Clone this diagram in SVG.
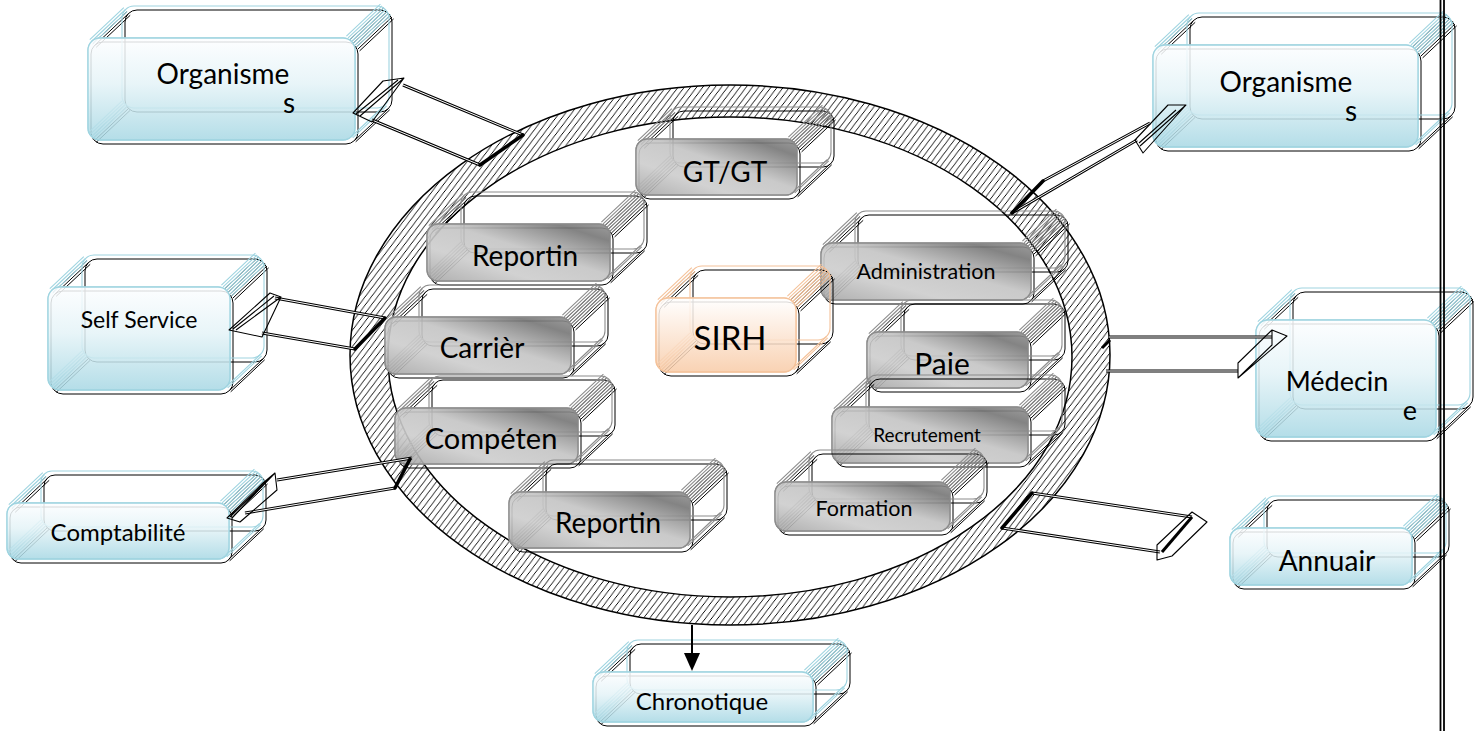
<svg xmlns="http://www.w3.org/2000/svg" xmlns:xlink="http://www.w3.org/1999/xlink" width="1474" height="731" viewBox="0 0 1474 731">
<style>
.ink{stroke:#000;fill:none;stroke-width:1}
.blu{stroke:#9fd4e0;fill:none;stroke-width:1.1}
.gry{stroke:#8c8c8c;fill:none;stroke-width:1.1}
.orn{stroke:#f4c29a;fill:none;stroke-width:1.1}
.fb{fill:url(#gBlue);fill-opacity:.86;stroke:#9fd4e0;stroke-width:1.3}
.fg{fill:url(#gGray);fill-opacity:.9;stroke:#8c8c8c;stroke-width:1.3}
.fo{fill:url(#gOrange);fill-opacity:.86;stroke:#f4c29a;stroke-width:1.3}
text{font-family:Lato,"Open Sans","Liberation Sans",sans-serif;fill:#000;text-anchor:middle}
.ring{fill:url(#hatch);fill-rule:evenodd;stroke:#000;stroke-width:1.5}
.sh{fill:none;stroke:#000;stroke-width:3;stroke-linejoin:round}
.sw{fill:none;stroke:#fff;stroke-width:1;stroke-linejoin:round}
.hd{fill:none;stroke:#000;stroke-width:1.1;stroke-linejoin:round}
.cap{stroke:#000;stroke-width:3.5;stroke-linecap:round}
</style>
<defs>
<pattern id="hatch" width="7" height="7" patternUnits="userSpaceOnUse" patternTransform="rotate(-8)">
<path d="M-1,1l2,-2M0,7l7,-7M6,8l2,-2" stroke="#000" stroke-width="1"/>
</pattern>
<linearGradient id="gBlue" x1="0" y1="0" x2="0" y2="1">
<stop offset="0" stop-color="#fdfeff"/><stop offset="0.45" stop-color="#e4f3f7"/><stop offset="1" stop-color="#a8d8e4"/>
</linearGradient>
<linearGradient id="gGray" x1="0" y1="1" x2="1" y2="0">
<stop offset="0" stop-color="#a6a6a6"/><stop offset="0.3" stop-color="#cdcdcd"/><stop offset="0.55" stop-color="#c4c4c4"/><stop offset="0.85" stop-color="#767676"/><stop offset="1" stop-color="#939393"/>
</linearGradient>
<linearGradient id="gOrange" x1="0" y1="0" x2="0" y2="1">
<stop offset="0" stop-color="#ffffff"/><stop offset="1" stop-color="#f8cba7"/>
</linearGradient>
<!-- edge bands joining a front corner to the matching back corner -->
<path id="bTL" d="M-1.7,-1.8l34,-32M0,0l34,-32M1.7,1.8l34,-32"/>
<path id="bTR" d="M-5.1,-5.4l34,-32M-3.4,-3.6l34,-32M-1.7,-1.8l34,-32M0,0l34,-32M1.7,1.8l34,-32M3.4,3.6l34,-32M5.1,5.4l34,-32"/>
<path id="bBR" d="M0,0l34,-32M1.2,1.3l34,-32"/>
<path id="bBL" d="M-3.4,-3.6l34,-32M-1.7,-1.8l34,-32M0,0l34,-32M1.7,1.8l34,-32"/>
<!-- box frames: back face, edge bands, front outline -->
<g id="f1"><rect x="34" y="-32" width="267" height="102" rx="12"/><use xlink:href="#bTL" x="3.5" y="3.5"/><use xlink:href="#bTR" x="263.5" y="3.5"/><use xlink:href="#bBR" x="263.5" y="98.5"/><use xlink:href="#bBL" x="3.5" y="98.5"/><rect width="267" height="102" rx="12"/></g>
<g id="f2"><rect x="34" y="-32" width="265" height="102" rx="12"/><use xlink:href="#bTL" x="3.5" y="3.5"/><use xlink:href="#bTR" x="261.5" y="3.5"/><use xlink:href="#bBR" x="261.5" y="98.5"/><use xlink:href="#bBL" x="3.5" y="98.5"/><rect width="265" height="102" rx="12"/></g>
<g id="f3"><rect x="34" y="-32" width="182" height="103" rx="12"/><use xlink:href="#bTL" x="3.5" y="3.5"/><use xlink:href="#bTR" x="178.5" y="3.5"/><use xlink:href="#bBR" x="178.5" y="99.5"/><use xlink:href="#bBL" x="3.5" y="99.5"/><rect width="182" height="103" rx="12"/></g>
<g id="f4"><rect x="34" y="-32" width="222" height="56" rx="11"/><use xlink:href="#bTL" x="3.5" y="3.5"/><use xlink:href="#bTR" x="218.5" y="3.5"/><use xlink:href="#bBR" x="218.5" y="52.5"/><use xlink:href="#bBL" x="3.5" y="52.5"/><rect width="222" height="56" rx="11"/></g>
<g id="f5"><rect x="34" y="-32" width="180" height="117" rx="12"/><use xlink:href="#bTL" x="3.5" y="3.5"/><use xlink:href="#bTR" x="176.5" y="3.5"/><use xlink:href="#bBR" x="176.5" y="113.5"/><use xlink:href="#bBL" x="3.5" y="113.5"/><rect width="180" height="117" rx="12"/></g>
<g id="f6"><rect x="34" y="-32" width="182" height="57" rx="11"/><use xlink:href="#bTL" x="3.5" y="3.5"/><use xlink:href="#bTR" x="178.5" y="3.5"/><use xlink:href="#bBR" x="178.5" y="53.5"/><use xlink:href="#bBL" x="3.5" y="53.5"/><rect width="182" height="57" rx="11"/></g>
<g id="f7"><rect x="34" y="-32" width="220" height="50" rx="11"/><use xlink:href="#bTL" x="3.5" y="3.5"/><use xlink:href="#bTR" x="216.5" y="3.5"/><use xlink:href="#bBR" x="216.5" y="46.5"/><use xlink:href="#bBL" x="3.5" y="46.5"/><rect width="220" height="50" rx="11"/></g>
<g id="f8"><rect x="34" y="-32" width="161" height="56" rx="11"/><use xlink:href="#bTL" x="3.5" y="3.5"/><use xlink:href="#bTR" x="157.5" y="3.5"/><use xlink:href="#bBR" x="157.5" y="52.5"/><use xlink:href="#bBL" x="3.5" y="52.5"/><rect width="161" height="56" rx="11"/></g>
<g id="f9"><rect x="34" y="-32" width="183" height="57" rx="11"/><use xlink:href="#bTL" x="3.5" y="3.5"/><use xlink:href="#bTR" x="179.5" y="3.5"/><use xlink:href="#bBR" x="179.5" y="53.5"/><use xlink:href="#bBL" x="3.5" y="53.5"/><rect width="183" height="57" rx="11"/></g>
<g id="f10"><rect x="34" y="-32" width="186" height="57" rx="11"/><use xlink:href="#bTL" x="3.5" y="3.5"/><use xlink:href="#bTR" x="182.5" y="3.5"/><use xlink:href="#bBR" x="182.5" y="53.5"/><use xlink:href="#bBL" x="3.5" y="53.5"/><rect width="186" height="57" rx="11"/></g>
<g id="f11"><rect x="34" y="-32" width="183" height="56" rx="11"/><use xlink:href="#bTL" x="3.5" y="3.5"/><use xlink:href="#bTR" x="179.5" y="3.5"/><use xlink:href="#bBR" x="179.5" y="52.5"/><use xlink:href="#bBL" x="3.5" y="52.5"/><rect width="183" height="56" rx="11"/></g>
<g id="f12"><rect x="34" y="-32" width="181" height="56" rx="11"/><use xlink:href="#bTL" x="3.5" y="3.5"/><use xlink:href="#bTR" x="177.5" y="3.5"/><use xlink:href="#bBR" x="177.5" y="52.5"/><use xlink:href="#bBL" x="3.5" y="52.5"/><rect width="181" height="56" rx="11"/></g>
<g id="f13"><rect x="34" y="-32" width="210" height="57" rx="11"/><use xlink:href="#bTL" x="3.5" y="3.5"/><use xlink:href="#bTR" x="206.5" y="3.5"/><use xlink:href="#bBR" x="206.5" y="53.5"/><use xlink:href="#bBL" x="3.5" y="53.5"/><rect width="210" height="57" rx="11"/></g>
<g id="f14"><rect x="34" y="-32" width="161" height="56" rx="11"/><use xlink:href="#bTL" x="3.5" y="3.5"/><use xlink:href="#bTR" x="157.5" y="3.5"/><use xlink:href="#bBR" x="157.5" y="52.5"/><use xlink:href="#bBL" x="3.5" y="52.5"/><rect width="161" height="56" rx="11"/></g>
<g id="f15"><rect x="34" y="-32" width="196" height="56" rx="11"/><use xlink:href="#bTL" x="3.5" y="3.5"/><use xlink:href="#bTR" x="192.5" y="3.5"/><use xlink:href="#bBR" x="192.5" y="52.5"/><use xlink:href="#bBL" x="3.5" y="52.5"/><rect width="196" height="56" rx="11"/></g>
<g id="f16"><rect x="34" y="-32" width="175" height="49" rx="11"/><use xlink:href="#bTL" x="3.5" y="3.5"/><use xlink:href="#bTR" x="171.5" y="3.5"/><use xlink:href="#bBR" x="171.5" y="45.5"/><use xlink:href="#bBL" x="3.5" y="45.5"/><rect width="175" height="49" rx="11"/></g>
<g id="f17"><rect x="34" y="-32" width="140" height="74" rx="12"/><use xlink:href="#bTL" x="3.5" y="3.5"/><use xlink:href="#bTR" x="136.5" y="3.5"/><use xlink:href="#bBR" x="136.5" y="70.5"/><use xlink:href="#bBL" x="3.5" y="70.5"/><rect width="140" height="74" rx="12"/></g>
</defs>

<rect width="1474" height="731" fill="#fff"/>

<!-- hatched ring around the SIRH modules -->
<g id="ring">
<path class="ring" d="M350,355a380,270 0 1,0 760,0a380,270 0 1,0 -760,0ZM388,357a342,240 0 1,0 684,0a342,240 0 1,0 -684,0Z"/>
</g>

<!-- inner modules -->
<g id="n-gtgt"><use xlink:href="#f8" x="639" y="143" class="ink"/><use xlink:href="#f8" x="636" y="139" class="gry"/><rect x="636" y="139" width="161" height="56" rx="11" class="fg"/><text x="725" y="182" font-size="28">GT/GT</text></g>
<g id="n-reporting1"><use xlink:href="#f9" x="430" y="228" class="ink"/><use xlink:href="#f9" x="427" y="224" class="gry"/><rect x="427" y="224" width="183" height="57" rx="11" class="fg"/><text x="525" y="266" font-size="28">Reportin</text></g>
<g id="n-carriere"><use xlink:href="#f10" x="388" y="321" class="ink"/><use xlink:href="#f10" x="385" y="317" class="gry"/><rect x="385" y="317" width="186" height="57" rx="11" class="fg"/><text x="482" y="358" font-size="28">Carrièr</text></g>
<g id="n-competences"><use xlink:href="#f11" x="398" y="412" class="ink"/><use xlink:href="#f11" x="395" y="408" class="gry"/><rect x="395" y="408" width="183" height="56" rx="11" class="fg"/><text x="491" y="449" font-size="29">Compéten</text></g>
<g id="n-reporting2"><use xlink:href="#f12" x="512" y="496" class="ink"/><use xlink:href="#f12" x="509" y="492" class="gry"/><rect x="509" y="492" width="181" height="56" rx="11" class="fg"/><text x="608" y="533" font-size="28">Reportin</text></g>
<g id="n-administration"><use xlink:href="#f13" x="824" y="247" class="ink"/><use xlink:href="#f13" x="821" y="243" class="gry"/><rect x="821" y="243" width="210" height="57" rx="11" class="fg"/><text x="926" y="279" font-size="21.5">Administration</text></g>
<g id="n-paie"><use xlink:href="#f14" x="870" y="336" class="ink"/><use xlink:href="#f14" x="867" y="332" class="gry"/><rect x="867" y="332" width="161" height="56" rx="11" class="fg"/><text x="942" y="375" font-size="30">Paie</text></g>
<g id="n-recrutement"><use xlink:href="#f15" x="835" y="411" class="ink"/><use xlink:href="#f15" x="832" y="407" class="gry"/><rect x="832" y="407" width="196" height="56" rx="11" class="fg"/><text x="927" y="442" font-size="19">Recrutement</text></g>
<g id="n-formation"><use xlink:href="#f16" x="778" y="486" class="ink"/><use xlink:href="#f16" x="775" y="482" class="gry"/><rect x="775" y="482" width="175" height="49" rx="11" class="fg"/><text x="864" y="516" font-size="21.5">Formation</text></g>
<g id="n-sirh"><use xlink:href="#f17" x="659" y="302" class="ink"/><use xlink:href="#f17" x="656" y="298" class="orn"/><rect x="656" y="298" width="140" height="74" rx="12" class="fo"/><text x="730" y="350" font-size="33">SIRH</text></g>

<!-- external systems -->
<g id="n-organismes-left"><use xlink:href="#f1" x="91" y="42" class="ink"/><use xlink:href="#f1" x="88" y="38" class="blu"/><rect x="88" y="38" width="267" height="102" rx="12" class="fb"/><text x="223" y="84" font-size="28">Organisme</text><text x="289" y="113" font-size="28">s</text></g>
<g id="n-organismes-right"><use xlink:href="#f2" x="1156" y="49" class="ink"/><use xlink:href="#f2" x="1153" y="45" class="blu"/><rect x="1153" y="45" width="265" height="102" rx="12" class="fb"/><text x="1286" y="92" font-size="28">Organisme</text><text x="1351" y="121" font-size="28">s</text></g>
<g id="n-selfservice"><use xlink:href="#f3" x="51" y="291" class="ink"/><use xlink:href="#f3" x="48" y="287" class="blu"/><rect x="48" y="287" width="182" height="103" rx="12" class="fb"/><text x="139" y="328" font-size="23">Self Service</text></g>
<g id="n-comptabilite"><use xlink:href="#f4" x="10" y="507" class="ink"/><use xlink:href="#f4" x="7" y="503" class="blu"/><rect x="7" y="503" width="222" height="56" rx="11" class="fb"/><text x="118" y="541" font-size="24">Comptabilité</text></g>
<g id="n-medecine"><use xlink:href="#f5" x="1259" y="324" class="ink"/><use xlink:href="#f5" x="1256" y="320" class="blu"/><rect x="1256" y="320" width="180" height="117" rx="12" class="fb"/><text x="1337" y="391" font-size="27">Médecin</text><text x="1410" y="420" font-size="27">e</text></g>
<g id="n-annuaire"><use xlink:href="#f6" x="1233" y="532" class="ink"/><use xlink:href="#f6" x="1230" y="528" class="blu"/><rect x="1230" y="528" width="182" height="57" rx="11" class="fb"/><text x="1327" y="571" font-size="28">Annuair</text></g>
<g id="n-chronotique"><use xlink:href="#f7" x="596" y="676" class="ink"/><use xlink:href="#f7" x="593" y="672" class="blu"/><rect x="593" y="672" width="220" height="50" rx="11" class="fb"/><text x="702" y="710" font-size="24">Chronotique</text></g>

<!-- connectors -->
<g id="connectors">
<!-- to Organismes (left) -->
<path class="sh" d="M523,135L403,85M480,165L372,120"/><path class="sw" d="M523,135L403,85M480,165L372,120"/>
<line class="cap" x1="480" y1="165" x2="523" y2="135"/>
<path class="hd" d="M383,81L404,78L372,122L353,113ZM404,78L360,116M398,80L356,114"/>
<!-- to Organismes (right) -->
<path class="sh" d="M1043,181L1150,123M1012,213L1137,140"/><path class="sw" d="M1043,181L1150,123M1012,213L1137,140"/>
<line class="cap" x1="1012" y1="213" x2="1043" y2="181"/>
<path class="hd" d="M1135,140L1168,105L1186,105L1143,153ZM1186,105L1140,146M1176,110L1139,143"/>
<!-- to Self Service -->
<path class="sh" d="M385,318L275,298M355,349L262,333"/><path class="sw" d="M385,318L275,298M355,349L262,333"/>
<line class="cap" x1="355" y1="349" x2="385" y2="318"/>
<path class="hd" d="M270,293L281,297L262,337L229,330ZM281,297L236,330M274,296L233,329"/>
<!-- to Comptabilité -->
<path class="sh" d="M412,458L277,480M395,488L245,513"/><path class="sw" d="M412,458L277,480M395,488L245,513"/>
<line class="cap" x1="395" y1="488" x2="410" y2="459"/>
<path class="hd" d="M263,483L275,473L277,490L240,522L227,518ZM275,473L232,518M270,478L230,517"/>
<!-- to Médecine -->
<path class="sh" d="M1109,337L1272,337M1106,371L1238,371"/><path class="sw" d="M1109,337L1272,337M1106,371L1238,371"/>
<line x1="1102" y1="348" x2="1110" y2="340" stroke="#000" stroke-width="3"/>
<path class="hd" d="M1238,363L1272,330L1287,336L1238,378ZM1287,336L1245,372M1272,330L1272,345L1238,378"/>
<!-- to Annuaire -->
<path class="sh" d="M1032,493L1192,517M1002,528L1160,552"/><path class="sw" d="M1032,493L1192,517M1002,528L1160,552"/>
<line class="cap" x1="1002" y1="528" x2="1032" y2="493"/>
<path class="hd" d="M1157,545L1192,512L1207,522L1172,556L1157,560ZM1192,517L1162,552"/>
<line x1="1192" y1="517" x2="1162" y2="552" stroke="#000" stroke-width="3"/>
<!-- to Chronotique -->
<line x1="692" y1="625" x2="692" y2="656" stroke="#000" stroke-width="2"/>
<path d="M684,653L700,653L692,671Z" fill="#000"/>
</g>

<!-- page frame line -->
<path d="M1440.5,0V731M1444,0V731" stroke="#000" stroke-width="1.8" fill="none"/>
</svg>
